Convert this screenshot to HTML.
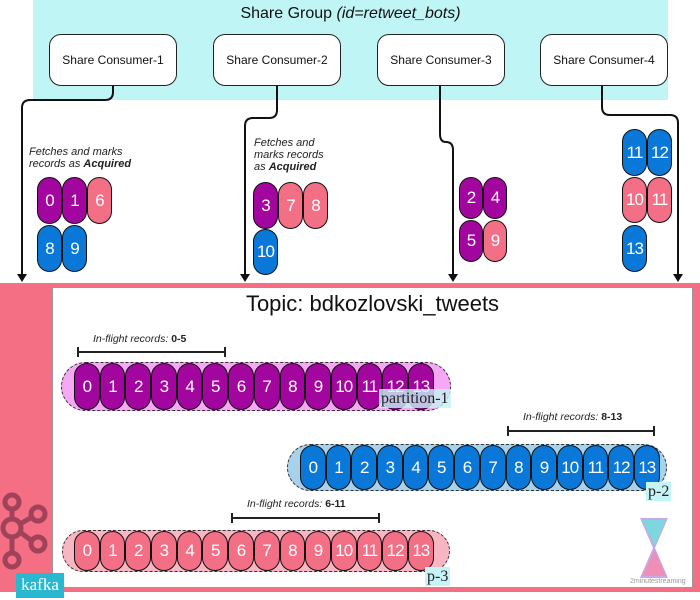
<!DOCTYPE html>
<html><head><meta charset="utf-8"><style>
*{margin:0;padding:0;box-sizing:border-box}
body{width:700px;height:600px;position:relative;background:#fff;font-family:"Liberation Sans",sans-serif;overflow:hidden}
.a{position:absolute}
.cons{position:absolute;top:34px;width:128px;height:52px;background:#fff;border:1px solid #222;border-radius:12px;font-size:12px;display:flex;align-items:center;justify-content:center;color:#111}
.row{position:absolute;display:flex}
.c{width:25.7px;border:1px solid #111;border-radius:13px;color:#fff;font-size:17px;display:flex;align-items:center;justify-content:center;letter-spacing:-1px}
.m{background:#a3069f}.p{background:#f36f86}.b{background:#0a78d8}
.cap{position:absolute;border:1px dashed #333;border-radius:25px}
.lab{position:absolute;font-family:"Liberation Serif",serif;font-size:16px;background:#c6f3f5;color:#222;padding:0 2px;line-height:19px}
.inf{position:absolute;font-size:10.5px;font-style:italic;color:#222}
.bar{position:absolute;height:2px;background:#222}
.bar:before,.bar:after{content:"";position:absolute;top:-4px;width:2px;height:10px;background:#222}
.bar:before{left:0}.bar:after{right:0}
.t{font-size:11px;font-style:italic;color:#222;line-height:12px}
</style></head><body>
<div class="a" style="left:33px;top:0;width:635px;height:100px;background:#c0f5f5"></div>
<div class="a" style="left:33px;top:5px;width:635px;text-align:center;font-size:16px;color:#111">Share Group <i>(id=retweet_bots)</i></div>
<div class="cons" style="left:49px">Share Consumer-1</div>
<div class="cons" style="left:213px">Share Consumer-2</div>
<div class="cons" style="left:377px">Share Consumer-3</div>
<div class="cons" style="left:540px">Share Consumer-4</div>

<div class="a" style="left:0;top:283px;width:700px;height:309px;background:#f46f84"></div>
<div class="a" style="left:52px;top:287px;width:641px;height:301px;background:#fff;border:1px solid #999"></div>

<svg class="a" style="left:0;top:0" width="700" height="600">
<g fill="none" stroke="#111" stroke-width="2">
<path d="M113 86 V92 Q113 100 105 100 H30 Q22 100 22 108 V278"/>
<path d="M277 86 V110 Q277 118 269 118 H253 Q245 118 245 126 V278"/>
<path d="M440 86 V134 Q440 142 446 142 Q453 142 453 150 V278"/>
<path d="M602 86 V107 Q602 115 610 115 H670 Q678 115 678 123 V278"/>
</g>
<g fill="#111">
<path d="M17 274 L22 282 L27 274 Z"/><path d="M240 274 L245 282 L250 274 Z"/>
<path d="M448 274 L453 282 L458 274 Z"/><path d="M673 274 L678 282 L683 274 Z"/>
</g>
<g fill="none" stroke="#a0425a" stroke-width="5">
<circle cx="12" cy="502" r="7"/><circle cx="12" cy="528" r="9"/><circle cx="12" cy="560" r="7"/>
<circle cx="38" cy="514" r="7"/><circle cx="38" cy="544" r="7"/>
<path d="M12 509 V519 M12 537 V553 M20 524 L32 517 M20 532 L32 541"/>
</g>
<path d="M640 518 H668 L655 548 L668 578 H640 L653 548 Z" fill="#c9a7e8"/>
<path d="M642 520 H666 L655 546 Z" fill="#7ed6de"/><path d="M655 550 L666 576 H642 Z" fill="#ee8fb8"/>
</svg>
<div class="a" style="left:630px;top:578px;font-size:7px;color:#999">2minutestreaming</div>
<div class="a" style="left:16px;top:573px;width:48px;height:25px;background:#2ab8d0;color:#fff;font-family:'Liberation Serif',serif;font-size:17px;text-align:center;line-height:24px">kafka</div>

<div class="a t" style="left:29px;top:146px">Fetches and marks<br>records as <b>Acquired</b></div>
<div class="a t" style="left:254px;top:137px">Fetches and<br>marks records<br>as <b>Acquired</b></div>

<div class="row" style="left:37px;top:177px;height:47px"><div class="c m" style="width:25px">0</div><div class="c m" style="width:25px">1</div><div class="c p" style="width:25px">6</div></div>
<div class="row" style="left:37px;top:225px;height:47px"><div class="c b" style="width:25px">8</div><div class="c b" style="width:25px">9</div></div>
<div class="row" style="left:253px;top:182px;height:47px"><div class="c m" style="width:25px">3</div><div class="c p" style="width:25px">7</div><div class="c p" style="width:25px">8</div></div>
<div class="row" style="left:253px;top:229px;height:46px"><div class="c b" style="width:25px">10</div></div>
<div class="row" style="left:459px;top:177px;height:42px"><div class="c m" style="width:24px">2</div><div class="c m" style="width:24px">4</div></div>
<div class="row" style="left:459px;top:220px;height:42px"><div class="c m" style="width:24px">5</div><div class="c p" style="width:24px">9</div></div>
<div class="row" style="left:622px;top:129px;height:47px"><div class="c b" style="width:25px">11</div><div class="c b" style="width:25px">12</div></div>
<div class="row" style="left:622px;top:177px;height:46px"><div class="c p" style="width:25px">10</div><div class="c p" style="width:25px">11</div></div>
<div class="row" style="left:622px;top:225px;height:47px"><div class="c b" style="width:25px">13</div></div>

<div class="a" style="left:52px;top:291px;width:641px;text-align:center;font-size:22px;color:#111">Topic: bdkozlovski_tweets</div>

<div class="inf" style="left:93px;top:333px">In-flight records: <b style="font-style:normal">0-5</b></div>
<div class="bar" style="left:77px;top:351px;width:149px"></div>
<div class="cap" style="left:61px;top:362px;width:390px;height:49px;background:#f7a8f5"></div>
<div class="row" style="left:74px;top:363px;height:47px"><div class="c m">0</div><div class="c m">1</div><div class="c m">2</div><div class="c m">3</div><div class="c m">4</div><div class="c m">5</div><div class="c m">6</div><div class="c m">7</div><div class="c m">8</div><div class="c m">9</div><div class="c m">10</div><div class="c m">11</div><div class="c m">12</div><div class="c m">13</div></div>
<div class="lab" style="left:379px;top:389px;background:#c6f3f5cc">partition-1</div>

<div class="inf" style="left:523px;top:411px">In-flight records: <b style="font-style:normal">8-13</b></div>
<div class="bar" style="left:507px;top:430px;width:148px"></div>
<div class="cap" style="left:287px;top:444px;width:380px;height:47px;background:#a8d2ec"></div>
<div class="row" style="left:300px;top:445px;height:45px"><div class="c b">0</div><div class="c b">1</div><div class="c b">2</div><div class="c b">3</div><div class="c b">4</div><div class="c b">5</div><div class="c b">6</div><div class="c b">7</div><div class="c b">8</div><div class="c b">9</div><div class="c b">10</div><div class="c b">11</div><div class="c b">12</div><div class="c b">13</div></div>
<div class="lab" style="left:646px;top:482px">p-2</div>

<div class="inf" style="left:247px;top:498px">In-flight records: <b style="font-style:normal">6-11</b></div>
<div class="bar" style="left:231px;top:517px;width:149px"></div>
<div class="cap" style="left:62px;top:530px;width:388px;height:42px;background:#f8b6c2"></div>
<div class="row" style="left:74px;top:531px;height:40px"><div class="c p">0</div><div class="c p">1</div><div class="c p">2</div><div class="c p">3</div><div class="c p">4</div><div class="c p">5</div><div class="c p">6</div><div class="c p">7</div><div class="c p">8</div><div class="c p">9</div><div class="c p">10</div><div class="c p">11</div><div class="c p">12</div><div class="c p">13</div></div>
<div class="lab" style="left:425px;top:567px">p-3</div>
</body></html>
